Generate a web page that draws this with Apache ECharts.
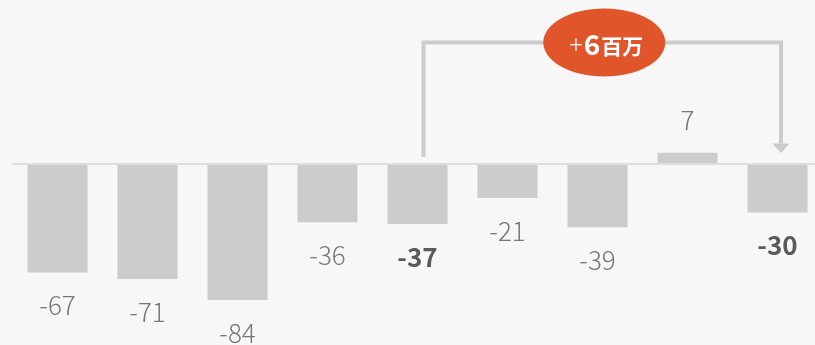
<!DOCTYPE html>
<html>
<head>
<meta charset="utf-8">
<script src="https://cdn.jsdelivr.net/npm/echarts@6/dist/echarts.min.js"></script>
<style>
html,body{margin:0;padding:0;background:#f7f7f7;}
#c{width:815px;height:345px;}
</style>
</head>
<body>
<div id="c"></div>
<script>
const categories = ['1','2','3','4','5','6','7','8','9'];
const values = [-67, -71, -84, -36, -37, -21, -39, 7, -30];
const boldIndex = [4, 8];
const bracketFrom = 4, bracketTo = 8;
const bracketTopValue = 75, bracketStartValue = 4.5, arrowTipValue = 6.8;
const annotationText = ['+', '6', '百万'];

const font = '"Noto Sans CJK JP", "Noto Sans", sans-serif';
const chart = echarts.init(document.getElementById('c'), null, {renderer: 'canvas'});

const data = values.map((v, i) => {
  const bold = boldIndex.includes(i);
  return {
    value: v,
    label: {
      fontWeight: bold ? 'bold' : 300,
      color: bold ? '#5a5a5a' : '#787878'
    }
  };
});

chart.setOption({
  backgroundColor: '#f7f7f7',
  animation: false,
  grid: {left: 12.5, right: -7.5, top: 2, bottom: 19, containLabel: false, outerBoundsMode: 'none'},
  xAxis: {
    type: 'category', data: categories, z: 5,
    axisLine: {show: true, onZero: true, lineStyle: {color: '#dedede', width: 2}},
    axisTick: {show: false}, axisLabel: {show: false}, splitLine: {show: false}
  },
  yAxis: {type: 'value', min: -100, max: 100, show: false, splitLine: {show: false}},
  series: [{
    type: 'bar', data: data, barWidth: 60,
    itemStyle: {color: '#cccccc'},
    label: {show: true, position: 'outside', distance: 20, fontSize: 26, fontFamily: font}
  }]
});

function px(i, v) { return chart.convertToPixel({gridIndex: 0}, [i, v]); }
const pA = px(bracketFrom, bracketStartValue);
const pTop = px(bracketFrom, bracketTopValue);
const pB = px(bracketTo, arrowTipValue);
const xL = pA[0] + 6, xR = pB[0] + 3.5, yTop = pTop[1], yTip = pB[1];
const headH = 9.5, headW = 8.7;
const cx = (xL + xR) / 2 + 2;

chart.setOption({
  graphic: [
    {type: 'polyline', z: 10, shape: {points: [[xL, pA[1]], [xL, yTop], [xR, yTop], [xR, yTip - headH]]},
     style: {stroke: '#cccccc', lineWidth: 4, fill: null}},
    {type: 'polygon', z: 10, shape: {points: [[xR - headW, yTip - headH], [xR + headW, yTip - headH], [xR, yTip]]},
     style: {fill: '#cccccc'}},
    {type: 'ellipse', z: 11, shape: {cx: cx, cy: yTop, rx: 61, ry: 34}, style: {fill: '#e0552a'}},
    {type: 'text', z: 12, x: cx + 2, y: yTop + 2,
     style: {
       text: '{p|' + annotationText[0] + '}{n|' + annotationText[1] + '}{u|' + annotationText[2] + '}',
       align: 'center', verticalAlign: 'middle',
       rich: {
         p: {fontSize: 25, fontWeight: 300, fill: '#fff', fontFamily: font, padding: [0, 1, 0, 0]},
         n: {fontSize: 28, fontWeight: 'bold', fill: '#fff', fontFamily: font},
         u: {fontSize: 21, fontWeight: 'bold', fill: '#fff', fontFamily: font, padding: [4, 0, 0, 1]}
       }
     }}
  ]
});
</script>
</body>
</html>
